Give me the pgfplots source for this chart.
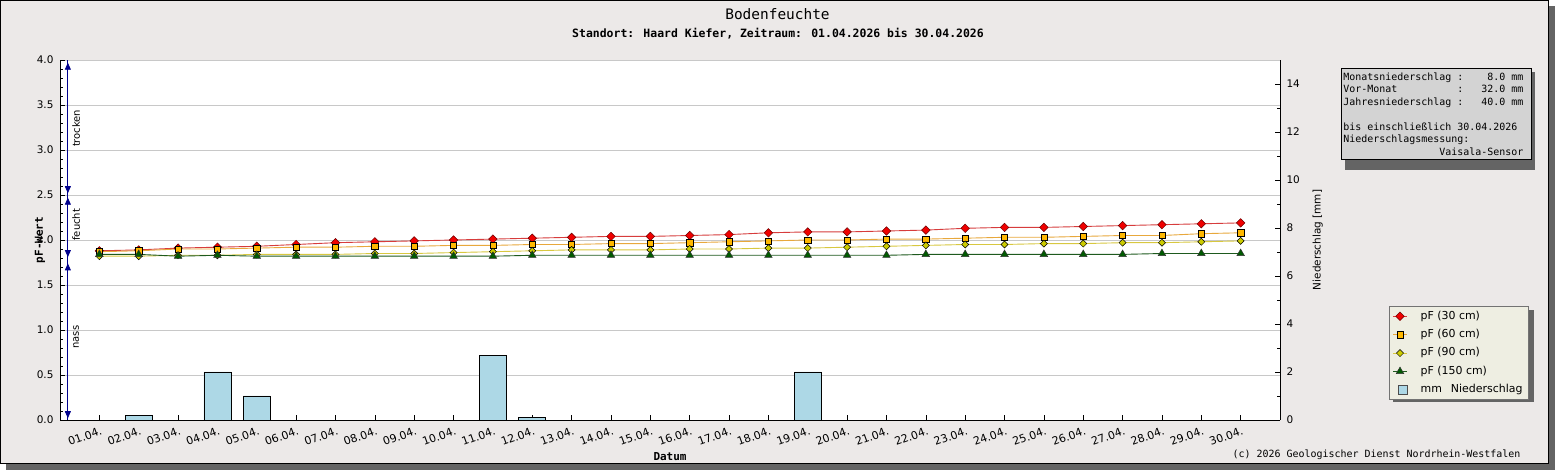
\documentclass[border=0pt]{standalone}
\usepackage{pgfplots}
\pgfplotsset{compat=1.18}
\usepackage{fontspec}
\setmainfont{DejaVu Sans}
\newfontfamily\mono{DejaVu Sans Mono}
\usetikzlibrary{arrows.meta}
\definecolor{panelbg}{RGB}{236,233,232}
\definecolor{shadowgray}{RGB}{100,100,100}
\definecolor{legbg}{RGB}{238,238,226}
\definecolor{infobg}{RGB}{211,211,211}
\definecolor{gridgray}{RGB}{200,200,200}
\definecolor{c30line}{RGB}{215,60,60}
\definecolor{c30fill}{RGB}{240,0,0}
\definecolor{c30draw}{RGB}{110,0,0}
\definecolor{c60line}{RGB}{232,168,60}
\definecolor{c60fill}{RGB}{255,184,0}
\definecolor{c90line}{RGB}{216,200,64}
\definecolor{c90fill}{RGB}{204,204,0}
\definecolor{c150line}{RGB}{30,90,30}
\definecolor{c150fill}{RGB}{0,90,0}
\definecolor{barblue}{RGB}{173,216,230}
\definecolor{navyblue}{RGB}{0,0,140}
\newcommand\msp{\hphantom{0}}

\pgfplotsset{
  lineleg/.style={legend image code/.code={\draw[mark repeat=2,mark phase=2,##1] plot coordinates {(0bp,0bp) (6.7bp,0bp) (13.4bp,0bp)};}},
  s30/.style={c30line, line width=0.9bp, mark=square*, mark size=3bp,
    mark options={rotate=45, fill=c30fill, draw=c30draw, line width=0.5bp}},
  s60/.style={c60line, line width=0.9bp, mark=square*, mark size=3.1bp,
    mark options={fill=c60fill, draw=black, line width=0.5bp}},
  s90/.style={c90line, line width=0.9bp, mark=square*, mark size=2.5bp,
    mark options={rotate=45, fill=c90fill, draw=black, line width=0.5bp}},
  s150/.style={c150line, line width=0.9bp, mark=triangle*, mark size=4.4bp,
    mark options={fill=c150fill, draw=black!80, line width=0.5bp}},
}

\pgfplotstableread{
day p30 p60 p90 p150
1 1.88 1.87 1.82 1.84
2 1.89 1.88 1.82 1.84
3 1.91 1.90 1.83 1.82
4 1.92 1.90 1.83 1.83
5 1.93 1.91 1.84 1.82
6 1.95 1.92 1.84 1.82
7 1.97 1.92 1.84 1.82
8 1.98 1.93 1.85 1.82
9 1.99 1.93 1.85 1.82
10 2.00 1.94 1.86 1.82
11 2.01 1.94 1.87 1.82
12 2.02 1.95 1.88 1.83
13 2.03 1.95 1.89 1.83
14 2.04 1.96 1.89 1.83
15 2.04 1.96 1.89 1.83
16 2.05 1.97 1.90 1.83
17 2.06 1.98 1.90 1.83
18 2.08 1.99 1.91 1.83
19 2.09 2.00 1.91 1.83
20 2.09 2.00 1.92 1.83
21 2.10 2.01 1.93 1.83
22 2.11 2.01 1.94 1.84
23 2.13 2.02 1.95 1.84
24 2.14 2.03 1.95 1.84
25 2.14 2.03 1.96 1.84
26 2.15 2.04 1.96 1.84
27 2.16 2.05 1.97 1.84
28 2.17 2.05 1.97 1.85
29 2.18 2.07 1.98 1.85
30 2.19 2.08 1.99 1.85
}\pfdata

\pgfplotstableread{
day mm
2 0.2
4 2.0
5 1.0
11 2.7
12 0.1
19 2.0
}\raindata

\begin{document}
\begin{tikzpicture}[x=1bp,y=1bp]
\useasboundingbox (0,0) rectangle (1555,470);
\fill[shadowgray] (6,0) rectangle (1555,464);
\filldraw[fill=panelbg, draw=black, line width=1bp] (0.5,6.5) rectangle (1548.5,469.5);

\node[font=\mono\fontsize{14.5}{16}\selectfont] at (777.5,456) {Bodenfeuchte};
\node[font=\mono\bfseries\fontsize{11.5}{13}\selectfont] at (778,436) {Standort: Haard Kiefer, Zeitraum: 01.04.2026 bis 30.04.2026};
\node[font=\mono\fontsize{10}{12}\selectfont, anchor=east] at (1524,15) {(c) 2026 Geologischer Dienst Nordrhein-Westfalen};

% shadows of legend and info box
\fill[shadowgray] (1393,68) rectangle (1534,160);
\fill[shadowgray] (1345,300) rectangle (1535,397.7);

\begin{axis}[
  at={(60bp,50bp)}, anchor=south west, scale only axis,
  width=1220bp, height=360bp,
  xmin=0, xmax=31, ymin=0, ymax=4,
  axis x line*=bottom, axis y line*=left,
  axis background/.style={fill=white},
  xtick={1,...,30},
  xticklabels={01.04.,02.04.,03.04.,04.04.,05.04.,06.04.,07.04.,08.04.,09.04.,10.04.,11.04.,12.04.,13.04.,14.04.,15.04.,16.04.,17.04.,18.04.,19.04.,20.04.,21.04.,22.04.,23.04.,24.04.,25.04.,26.04.,27.04.,28.04.,29.04.,30.04.},
  xticklabel style={rotate=20, anchor=north east, font=\fontsize{11}{13}\selectfont, inner sep=1bp, xshift=-0.5bp, yshift=-5bp},
  tick align=inside,
  major tick length=5bp, minor tick length=3bp,
  ytick={0,0.5,...,4}, minor y tick num=4,
  ymajorgrids, major grid style={gridgray, line width=0.8bp},
  /pgf/number format/assume math mode=true,
  y tick label style={/pgf/number format/fixed, /pgf/number format/fixed zerofill, /pgf/number format/precision=1},
  yticklabel style={font=\fontsize{10.5}{12}\selectfont, xshift=-3bp},
  ylabel={\mono\bfseries pF-Wert},
  ylabel style={at={(axis description cs:-0.0164,0.5)}, anchor=center, font=\fontsize{11}{13}\selectfont},
  xlabel={\mono\bfseries Datum},
  xlabel style={at={(axis description cs:0.5,-0.1028)}, anchor=center, font=\fontsize{11}{13}\selectfont},
  tick style={black, line width=0.6bp},
  axis line style={black, line width=0.8bp},
  clip=false,
]
\draw[navyblue, line width=0.8bp] (axis cs:0.2,0) -- (axis cs:0.2,4);
\draw[navyblue, line width=0.8bp, {Triangle[length=7bp,width=6bp]}-{Triangle[length=7bp,width=6bp]}] (axis cs:0.2,2.52) -- (axis cs:0.2,3.97);
\draw[navyblue, line width=0.8bp, {Triangle[length=7bp,width=6bp]}-{Triangle[length=7bp,width=6bp]}] (axis cs:0.2,1.81) -- (axis cs:0.2,2.47);
\draw[navyblue, line width=0.8bp, {Triangle[length=7bp,width=6bp]}-{Triangle[length=7bp,width=6bp]}] (axis cs:0.2,0.02) -- (axis cs:0.2,1.74);
\node[rotate=90, font=\fontsize{10}{12}\selectfont] at (axis cs:0.41,3.24) {trocken};
\node[rotate=90, font=\fontsize{10}{12}\selectfont] at (axis cs:0.41,2.17) {feucht};
\node[rotate=90, font=\fontsize{10}{12}\selectfont] at (axis cs:0.41,0.92) {nass};
\addplot[s30] table[x=day, y=p30] {\pfdata};
\addplot[s60] table[x=day, y=p60] {\pfdata};
\addplot[s90] table[x=day, y=p90] {\pfdata};
\addplot[s150] table[x=day, y=p150] {\pfdata};
\end{axis}

\begin{axis}[
  at={(60bp,50bp)}, anchor=south west, scale only axis,
  width=1220bp, height=360bp,
  xmin=0, xmax=31, ymin=0, ymax=15,
  axis x line=none, axis y line*=right,
  ytick={0,2,...,14}, minor y tick num=1,
  tick align=inside,
  major tick length=5bp, minor tick length=3bp,
  tick style={black, line width=0.6bp},
  axis line style={black, line width=0.8bp},
  /pgf/number format/assume math mode=true,
  yticklabel style={font=\fontsize{10.5}{12}\selectfont, xshift=3bp},
  ylabel={Niederschlag [mm]},
  ylabel style={at={(axis description cs:1.031,0.5)}, anchor=center, font=\fontsize{10.5}{12}\selectfont},
  legend style={at={(1.0893,0.3167)}, anchor=north west, fill=legbg, draw=black!55, line width=0.8bp,
    font=\fontsize{11}{13}\selectfont, row sep=4.6bp, inner xsep=3.5bp, inner ysep=3bp,
    nodes={inner sep=2bp, text height=7.8bp, text depth=2bp},
    /tikz/every odd column/.append style={column sep=11bp}},
  legend cell align=left,
  clip=false,
]
\addlegendimage{s30,lineleg}
\addlegendentry{pF (30 cm)}
\addlegendimage{s60,lineleg}
\addlegendentry{pF (60 cm)}
\addlegendimage{s90,lineleg}
\addlegendentry{pF (90 cm)}
\addlegendimage{s150,lineleg}
\addlegendentry{pF (150 cm)}
\addplot[ybar, bar width=27bp, fill=barblue, draw=black, line width=0.6bp,
  legend image code/.code={\draw[fill=barblue, draw=black!70, line width=0.6bp] (5bp,-4.5bp) rectangle (14bp,4.5bp);}]
  table[x=day, y=mm] {\raindata};
\addlegendentry{mm\hspace{9bp}Niederschlag}
\end{axis}

\node[draw=black, line width=0.8bp, fill=infobg,
  anchor=north west, inner xsep=2bp, inner ysep=4bp, text width=185.7bp, align=left,
  font=\mono\fontsize{10}{12.5}\selectfont] at (1341,401.7)
  {Monatsniederschlag\msp:\msp\msp\msp\msp8.0\msp{}mm\\
   Vor-Monat\msp\msp\msp\msp\msp\msp\msp\msp\msp\msp:\msp\msp\msp32.0\msp{}mm\\
   Jahresniederschlag\msp:\msp\msp\msp40.0\msp{}mm\\
   \mbox{}\\
   bis\msp{}einschließlich\msp30.04.2026\\
   Niederschlagsmessung:\\
   \msp\msp\msp\msp\msp\msp\msp\msp\msp\msp\msp\msp\msp\msp\msp\msp{}Vaisala-Sensor};
\end{tikzpicture}
\end{document}
